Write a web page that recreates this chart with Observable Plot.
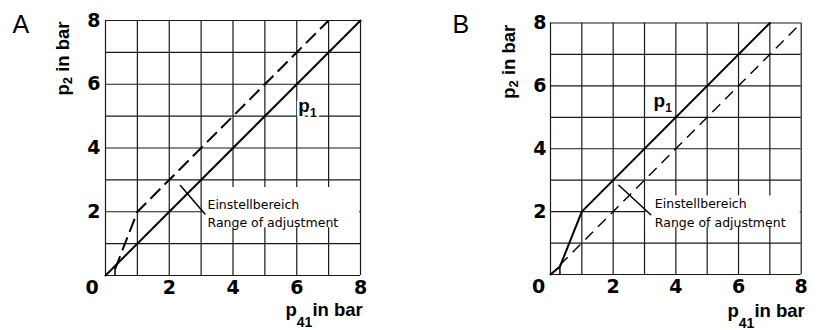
<!DOCTYPE html>
<html><head><meta charset="utf-8">
<script src="https://cdn.jsdelivr.net/npm/d3@7"></script>
<script src="https://cdn.jsdelivr.net/npm/@observablehq/plot@0.6"></script>
<style>
body{margin:0;background:#fff;}
#wrap{position:relative;width:821px;height:330px;overflow:hidden;}
.panel{position:absolute;top:0;}
.panel svg{overflow:visible;}
</style></head><body><div id="wrap"></div>
<script>
// ---- data ----
const gridValues = [0,1,2,3,4,5,6,7,8];
const tickValues = [2,4,6,8];
const originLabel = ["0"];
const panelLetters = ["A","B"];
const yTitle = "p_2 in bar";
const xTitle = "p_41in bar";
const curveLabel = "p_1";
const annotLines = ["Einstellbereich","Range of adjustment"];
// Panel A
const aSolidX = [0, 8],            aSolidY = [0, 8];
const aDashX  = [0.3, 1, 7],       aDashY  = [0.2, 2, 8];
const aFootX  = [0.3, 0.3],        aFootY  = [0, 0.22];
const aLeaderX = [2.35, 3.12],     aLeaderY = [2.82, 1.93];
// Panel B
const bSolidX = [0, 0.3, 1, 7],    bSolidY = [0, 0.25, 2, 8];
const bDashX  = [0.3, 8],          bDashY  = [0.3, 8];
const bFootX  = [0.3, 0.3],        bFootY  = [0, 0.22];
const bLeaderX = [2.18, 3.2],      bLeaderY = [2.84, 1.9];

const FONT = '"Liberation Sans", Arial, Helvetica, sans-serif';
const WIDE = '"DejaVu Sans", Verdana, sans-serif';
const SUBS = {"p_2 in bar": {size: 13, shift: 3}, "p_41in bar": {size: 14, shift: 11}, "p_1": {size: 12, shift: 5}};
const pts = (xs, ys) => xs.map((x, i) => ({x, y: ys[i]}));

function panel(o) {
  return Plot.plot({
    width: o.width, height: 330,
    marginLeft: o.ml, marginRight: o.mr, marginTop: o.mt, marginBottom: o.mb,
    x: {domain: [0, 8]}, y: {domain: [0, 8]},
    style: {fontFamily: FONT, color: "#000", background: "transparent", overflow: "visible"},
    marks: [
      Plot.ruleX(gridValues, {x: d => d, y1: 0, y2: 8, stroke: "#1a1a1a", strokeWidth: 1.2}),
      Plot.ruleY(gridValues, {y: d => d, x1: 0, x2: 8, stroke: "#1a1a1a", strokeWidth: 1.2}),
      Plot.rect([0], {x1: 3.05, x2: 7.97, y1: 1.5, y2: o.boxTop, fill: "white"}),
      Plot.axisX({ticks: tickValues, tickSize: 0, tickPadding: 5, fontSize: 19, fontWeight: "bold", fontFamily: WIDE, label: null}),
      Plot.axisY({ticks: tickValues, tickSize: 0, tickPadding: o.yPad, fontSize: 19, fontWeight: "bold", fontFamily: WIDE, label: null}),
      Plot.text(originLabel, {x: 0, y: 0, text: d => d, dx: o.zeroDx, dy: 5, lineAnchor: "top", fontSize: 19, fontWeight: "bold", fontFamily: WIDE}),
      Plot.line(pts(o.solidX, o.solidY), {x: "x", y: "y", stroke: "#000", strokeWidth: 2}),
      Plot.line(pts(o.dashX, o.dashY), {x: "x", y: "y", stroke: "#000", strokeWidth: o.dashW, strokeDasharray: o.dash, strokeLinecap: "butt"}),
      Plot.line(pts(o.footX, o.footY), {x: "x", y: "y", stroke: "#000", strokeWidth: 1.5}),
      Plot.line(pts(o.leaderX, o.leaderY), {x: "x", y: "y", stroke: "#000", strokeWidth: 1.5}),
      Plot.text([annotLines[0]], {x: o.annotX, y: 2.1, text: d => d, textAnchor: "start", lineAnchor: "bottom", fontSize: 12.5, fontFamily: WIDE}),
      Plot.text([annotLines[1]], {x: o.annotX, y: 1.52, text: d => d, textAnchor: "start", lineAnchor: "bottom", fontSize: 12.5, fontFamily: WIDE}),
      Plot.text([curveLabel], {x: o.p1X, y: o.p1Y, text: d => d, textAnchor: "start", lineAnchor: "bottom", fontSize: 19, fontWeight: "bold", stroke: "white", strokeWidth: o.p1Halo, fill: "#000", paintOrder: "stroke"}),
      Plot.text([yTitle], {frameAnchor: "top-left", text: d => d, rotate: -90, textAnchor: "start", lineAnchor: "bottom", dx: o.yTitleDx, dy: o.yTitleDy, fontSize: 18.5, fontWeight: "bold", ariaLabel: "ytitle"}),
      Plot.text([xTitle], {frameAnchor: "bottom-right", text: d => d, textAnchor: "start", lineAnchor: "bottom", dx: o.xTitleDx, dy: o.xTitleDy, fontSize: 18.5, fontWeight: "bold"}),
      Plot.text([o.letter], {frameAnchor: "top-left", text: d => d, textAnchor: "start", lineAnchor: "top", dx: o.letterDx, dy: o.letterDy, fontSize: 25})
    ]
  });
}

function applySubscripts(svg) {
  d3.select(svg).selectAll("text").each(function() {
    const t = this.textContent;
    const m = t.match(/^(.*?)_(\d+)(.*)$/);
    if (!m) return;
    const cfg = SUBS[t] || {size: 12, shift: 5};
    const sel = d3.select(this);
    sel.text(null);
    sel.append("tspan").text(m[1]);
    sel.append("tspan").attr("font-size", cfg.size).attr("dy", cfg.shift).text(m[2]);
    if (m[3]) sel.append("tspan").attr("dy", -cfg.shift).text(m[3]);
  });
}

const panels = [
  {left: 0, width: 410, ml: 105, mr: 50, mt: 20, mb: 55, letter: panelLetters[0],
   solidX: aSolidX, solidY: aSolidY, dashX: aDashX, dashY: aDashY, footX: aFootX, footY: aFootY,
   leaderX: aLeaderX, leaderY: aLeaderY, dash: "14,6", dashW: 2,
   boxTop: 2.76, yPad: 5, zeroDx: -13.5, annotX: 3.2, p1X: 6.05, p1Y: 5.13, p1Halo: 5,
   yTitleDx: -37, yTitleDy: 75, xTitleDx: -75, xTitleDy: 40.7, letterDx: -93, letterDy: -5},
  {left: 410, width: 411, ml: 140, mr: 20.3, mt: 22.5, mb: 56, letter: panelLetters[1],
   solidX: bSolidX, solidY: bSolidY, dashX: bDashX, dashY: bDashY, footX: bFootX, footY: bFootY,
   leaderX: bLeaderX, leaderY: bLeaderY, dash: "11,7", dashW: 1.4,
   boxTop: 2.5, yPad: 4, zeroDx: -12, annotX: 3.33, p1X: 3.29, p1Y: 5.33, p1Halo: 0,
   yTitleDx: -35.4, yTitleDy: 75.8, xTitleDx: -73.7, xTitleDy: 42.7, letterDx: -98, letterDy: -7.5}
];

const wrap = document.getElementById("wrap");
for (const o of panels) {
  const div = document.createElement("div");
  div.className = "panel";
  div.style.left = o.left + "px";
  const svg = panel(o);
  div.appendChild(svg);
  wrap.appendChild(div);
  applySubscripts(svg);
  d3.select(svg).selectAll('g[aria-label="ytitle"] text').style("letter-spacing", "0.8px");
}
</script>
</body></html>
